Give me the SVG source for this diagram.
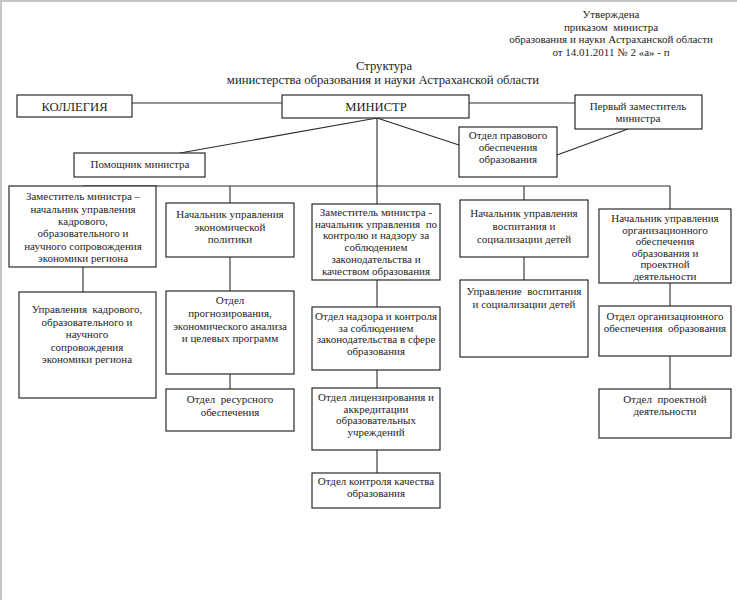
<svg xmlns="http://www.w3.org/2000/svg" width="737" height="600" viewBox="0 0 737 600" font-family="'Liberation Serif', 'Times New Roman', 'DejaVu Serif', serif">
<style>
  .bg { fill: #ffffff; }
  .frame { stroke: #c4c4c4; stroke-width: 2; fill: none; }
  .box { fill: #ffffff; stroke: #2a2a2a; stroke-width: 1.2; }
  .ln { stroke: #2a2a2a; stroke-width: 1.1; fill: none; }
  text { font-family: 'Liberation Serif', 'Times New Roman', 'DejaVu Serif', serif; fill: #1e1e1e; text-anchor: middle; }
  .s { font-size: 11px; }
  .t { font-size: 12.7px; }
  .m { font-size: 12.6px; }
</style>
<rect class="bg" x="0" y="0" width="737" height="600"/>
<path class="frame" d="M1,600 L1,1 L737,1"/>

<g id="header">
  <text class="s" x="611" y="18">Утверждена</text>
  <text class="s" x="611" y="31" xml:space="preserve">приказом  министра</text>
  <text class="s" x="611" y="43">образования и науки Астраханской области</text>
  <text class="s" x="611" y="56">от 14.01.2011 № 2 «а» - п</text>
</g>
<g id="title">
  <text class="t" x="384" y="70">Структура</text>
  <text class="t" x="383" y="84">министерства образования и науки Астраханской области</text>
</g>

<g id="connectors">
  <line class="ln" x1="132" y1="103" x2="282" y2="103"/>
  <line class="ln" x1="469" y1="103" x2="575" y2="103"/>
  <line class="ln" x1="377" y1="118" x2="180" y2="153"/>
  <line class="ln" x1="377" y1="118" x2="459" y2="145"/>
  <line class="ln" x1="628" y1="129" x2="557" y2="155"/>
  <line class="ln" x1="377" y1="118" x2="377" y2="204"/>
  <line class="ln" x1="83" y1="186" x2="670" y2="186"/>
  <line class="ln" x1="230" y1="186" x2="230" y2="203"/>
  <line class="ln" x1="524" y1="186" x2="524" y2="200"/>
  <line class="ln" x1="670" y1="186" x2="670" y2="209"/>
  <line class="ln" x1="83" y1="267" x2="83" y2="292"/>
  <line class="ln" x1="230" y1="257" x2="230" y2="291"/>
  <line class="ln" x1="230" y1="374" x2="230" y2="389"/>
  <line class="ln" x1="377" y1="280" x2="377" y2="307"/>
  <line class="ln" x1="377" y1="370" x2="377" y2="388"/>
  <line class="ln" x1="377" y1="450" x2="377" y2="473"/>
  <line class="ln" x1="524" y1="257" x2="524" y2="280"/>
  <line class="ln" x1="670" y1="283" x2="670" y2="306"/>
  <line class="ln" x1="670" y1="356" x2="670" y2="389"/>
</g>

<g id="kollegiya">
  <rect class="box" x="17" y="95" width="115" height="22"/>
  <text class="m" x="74.5" y="111">КОЛЛЕГИЯ</text>
</g>
<g id="ministr">
  <rect class="box" x="282" y="95" width="187" height="23"/>
  <text class="m" x="376" y="111">МИНИСТР</text>
</g>
<g id="perviy-zam">
  <rect class="box" x="575" y="95" width="127" height="34"/>
  <text class="s" x="638" y="110">Первый заместитель</text>
  <text class="s" x="638" y="122">министра</text>
</g>
<g id="otdel-pravovogo">
  <rect class="box" x="459" y="127" width="98" height="50"/>
  <text class="s" x="508" y="139">Отдел правового</text>
  <text class="s" x="508" y="151">обеспечения</text>
  <text class="s" x="508" y="163">образования</text>
</g>
<g id="pomoshnik">
  <rect class="box" x="74" y="153" width="131" height="24"/>
  <text class="s" x="140" y="168">Помощник министра</text>
</g>

<g id="zam-kadrovogo">
  <rect class="box" x="9" y="186" width="147" height="81"/>
  <text class="s" x="83" y="200">Заместитель министра –</text>
  <text class="s" x="83" y="212.5">начальник управления</text>
  <text class="s" x="83" y="225">кадрового,</text>
  <text class="s" x="83" y="237">образовательного и</text>
  <text class="s" x="83" y="249.5">научного сопровождения</text>
  <text class="s" x="83" y="262">экономики региона</text>
</g>
<g id="nach-ekonom">
  <rect class="box" x="166" y="203" width="128" height="54"/>
  <text class="s" x="230" y="218">Начальник управления</text>
  <text class="s" x="230" y="230.5">экономической</text>
  <text class="s" x="230" y="243">политики</text>
</g>
<g id="zam-kontrol">
  <rect class="box" x="312" y="204" width="128" height="76"/>
  <text class="s" x="376" y="216">Заместитель министра -</text>
  <text class="s" x="376" y="227.7" xml:space="preserve">начальник управления  по</text>
  <text class="s" x="376" y="239.4">контролю и надзору за</text>
  <text class="s" x="376" y="251">соблюдением</text>
  <text class="s" x="376" y="262.8">законодательства и</text>
  <text class="s" x="376" y="274.5">качеством образования</text>
</g>
<g id="nach-vospitaniya">
  <rect class="box" x="460" y="200" width="128" height="57"/>
  <text class="s" x="524" y="217">Начальник управления</text>
  <text class="s" x="524" y="230">воспитания и</text>
  <text class="s" x="524" y="243">социализации детей</text>
</g>
<g id="nach-org">
  <rect class="box" x="599" y="209" width="132" height="74"/>
  <text class="s" x="665" y="222">Начальник управления</text>
  <text class="s" x="665" y="233.5">организационного</text>
  <text class="s" x="665" y="245">обеспечения</text>
  <text class="s" x="665" y="256.5">образования и</text>
  <text class="s" x="665" y="268">проектной</text>
  <text class="s" x="665" y="279.5">деятельности</text>
</g>

<g id="upr-kadrovogo">
  <rect class="box" x="19" y="292" width="137" height="106"/>
  <text class="s" x="87" y="313" xml:space="preserve">Управления  кадрового,</text>
  <text class="s" x="87" y="325.5">образовательного и</text>
  <text class="s" x="87" y="338">научного</text>
  <text class="s" x="87" y="350.5">сопровождения</text>
  <text class="s" x="87" y="363">экономики региона</text>
</g>
<g id="otdel-prognoz">
  <rect class="box" x="166" y="291" width="128" height="83"/>
  <text class="s" x="230" y="304">Отдел</text>
  <text class="s" x="230" y="317">прогнозирования,</text>
  <text class="s" x="230" y="329.5">экономического анализа</text>
  <text class="s" x="230" y="342">и целевых программ</text>
</g>
<g id="otdel-resursnogo">
  <rect class="box" x="166" y="389" width="128" height="42"/>
  <text class="s" x="230" y="403" xml:space="preserve">Отдел  ресурсного</text>
  <text class="s" x="230" y="416">обеспечения</text>
</g>
<g id="otdel-nadzora">
  <rect class="box" x="312" y="307" width="128" height="63"/>
  <text class="s" x="376" y="320">Отдел надзора и контроля</text>
  <text class="s" x="376" y="331.7">за соблюдением</text>
  <text class="s" x="376" y="343.4">законодательства в сфере</text>
  <text class="s" x="376" y="355">образования</text>
</g>
<g id="otdel-licenz">
  <rect class="box" x="312" y="388" width="128" height="62"/>
  <text class="s" x="376" y="401">Отдел лицензирования и</text>
  <text class="s" x="376" y="412.5">аккредитации</text>
  <text class="s" x="376" y="424">образовательных</text>
  <text class="s" x="376" y="435.5">учреждений</text>
</g>
<g id="otdel-kachestva">
  <rect class="box" x="312" y="473" width="128" height="35"/>
  <text class="s" x="376" y="485">Отдел контроля качества</text>
  <text class="s" x="376" y="497">образования</text>
</g>
<g id="upr-vospitaniya">
  <rect class="box" x="460" y="280" width="128" height="77"/>
  <text class="s" x="524" y="295" xml:space="preserve">Управление  воспитания</text>
  <text class="s" x="524" y="308">и социализации детей</text>
</g>
<g id="otdel-org">
  <rect class="box" x="599" y="306" width="132" height="50"/>
  <text class="s" x="665" y="320">Отдел организационного</text>
  <text class="s" x="665" y="332" xml:space="preserve">обеспечения  образования</text>
</g>
<g id="otdel-proekt">
  <rect class="box" x="599" y="389" width="132" height="49"/>
  <text class="s" x="665" y="403" xml:space="preserve">Отдел  проектной</text>
  <text class="s" x="665" y="415">деятельности</text>
</g>
</svg>
